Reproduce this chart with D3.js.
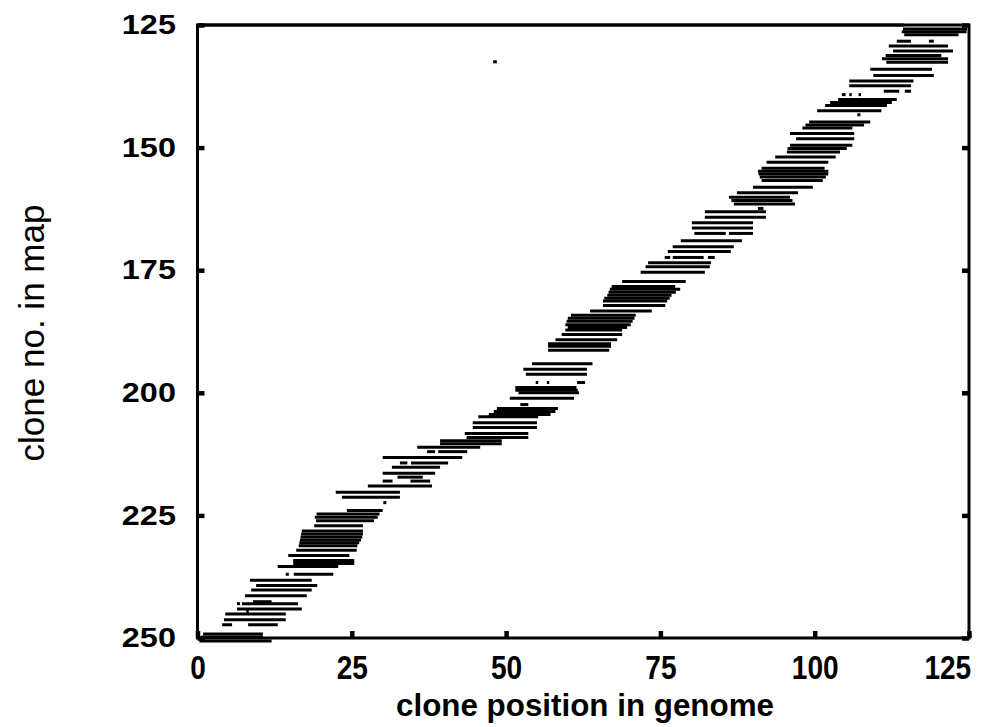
<!DOCTYPE html>
<html><head><meta charset="utf-8">
<script src="https://cdn.jsdelivr.net/npm/d3@7"></script>
<style>body{margin:0;background:#fff}</style>
</head><body><svg id="c" width="1000" height="727"></svg>
<script>
const xTicks=[0,25,50,75,100,125];
const yTicks=[125,150,175,200,225,250];
const xTitle="clone position in genome";
const yTitle="clone no. in map";
const cloneNo=[125.0,125.8,126.4,127.0,128.3,128.3,129.3,130.3,131.2,131.9,132.6,132.5,134.0,135.3,136.4,137.4,138.5,138.5,139.2,139.2,139.2,140.2,140.8,141.4,142.5,143.3,144.8,145.4,146.0,147.1,148.2,149.5,150.2,150.9,151.9,153.0,154.2,154.8,155.4,156.0,156.7,158.1,159.2,160.1,160.8,161.5,162.4,163.1,164.2,165.3,166.4,167.5,167.5,169.0,170.2,171.2,172.4,172.4,172.4,173.5,174.3,175.4,177.3,178.3,178.9,179.5,180.1,180.7,181.3,182.2,183.3,184.2,184.8,185.4,186.1,186.7,187.2,188.1,189.2,190.0,190.5,191.3,194.1,195.2,196.2,197.9,197.9,197.9,198.9,199.5,200.0,201.1,202.4,203.2,203.8,204.4,204.9,206.1,207.1,208.3,209.1,209.8,210.4,211.1,212.0,212.0,213.2,214.3,214.3,215.2,216.4,217.2,218.0,218.0,219.0,220.3,221.3,222.4,224.0,224.7,225.4,226.1,227.1,228.2,228.8,229.4,230.0,230.6,231.2,232.1,233.2,234.2,234.8,235.4,237.0,237.0,238.2,239.3,240.2,241.4,242.6,243.0,243.0,244.1,244.6,245.1,246.3,247.3,247.3,249.2,249.8,250.6];
const startPos=[0.3,114.3,114.1,114.5,113.3,118.5,112.0,112.7,111.5,110.9,111.6,47.9,109.0,109.5,105.6,105.6,111.2,114.6,104.4,105.6,107.1,103.8,102.5,101.7,100.4,106.9,99.1,98.5,98.0,96.0,97.0,96.0,95.6,95.5,93.6,92.2,91.4,90.8,90.9,91.1,91.4,90.0,87.4,86.1,86.5,86.9,90.8,82.2,82.2,80.1,80.1,80.5,86.1,78.3,77.0,76.2,75.7,77.0,82.7,73.0,72.6,71.8,68.8,67.1,66.8,66.6,66.4,65.9,65.7,65.7,63.6,60.5,60.0,59.8,59.6,60.0,59.6,59.0,58.0,56.8,56.8,56.8,54.2,52.8,53.2,54.8,56.6,61.5,51.5,51.5,52.0,50.6,52.3,48.5,48.0,47.2,45.5,44.6,44.6,43.3,43.6,39.3,39.3,35.6,37.2,39.0,30.0,32.8,34.6,31.5,30.0,32.4,30.0,34.5,27.6,22.4,23.4,30.1,24.2,19.3,19.0,19.2,18.9,16.9,16.8,16.7,16.6,16.5,16.4,16.0,14.7,15.5,15.5,13.0,14.3,15.6,8.5,9.5,8.7,7.7,9.0,6.4,7.2,6.4,7.9,4.5,4.3,4.0,8.2,0.9,0.6,0.3];
const endPos=[114.5,124.7,124.6,123.3,115.6,119.3,121.6,122.4,120.5,121.6,121.6,48.5,119.0,119.3,116.0,115.6,113.7,115.6,105.0,106.0,107.5,113.3,112.5,111.7,110.8,107.4,109.0,108.0,106.1,106.4,106.4,106.1,105.2,104.1,103.4,102.2,101.6,102.2,102.2,101.8,101.3,99.7,97.3,96.0,96.4,96.8,91.7,92.1,92.1,90.0,90.0,85.6,90.0,88.2,86.9,86.4,76.6,82.0,83.8,83.2,83.0,82.2,79.1,77.4,78.2,77.5,76.8,76.5,76.1,75.8,73.6,71.0,70.8,70.5,70.2,69.6,68.8,68.8,68.0,67.0,67.0,66.7,64.0,63.1,63.1,55.2,57.0,62.8,61.4,61.6,61.8,61.0,53.6,58.4,58.0,57.2,55.2,55.0,55.0,53.6,53.6,49.3,49.3,45.8,38.5,43.7,42.9,34.0,40.6,39.3,38.5,36.5,31.6,37.7,38.0,32.8,32.8,30.6,30.0,29.5,29.2,28.6,26.8,26.8,26.8,26.7,26.5,26.2,25.9,25.8,24.6,25.4,25.4,22.8,14.8,22.0,18.5,19.4,18.5,17.7,12.0,6.9,16.3,16.9,8.3,14.3,14.3,5.6,13.0,10.6,10.6,12.0];

const svg=d3.select("#c");
const L=197.5,R=969,T=25,B=638;
const x=d3.scaleLinear().domain([0,125]).range([L,R]);
const y=d3.scaleLinear().domain([125,250]).range([T,B]);

// clones
svg.append("g").selectAll("line").data(cloneNo.map((c,i)=>({c,s:startPos[i],e:endPos[i]})))
 .join("line")
 .attr("x1",d=>x(d.s)).attr("x2",d=>x(d.e))
 .attr("y1",d=>y(d.c)).attr("y2",d=>y(d.c))
 .attr("stroke","#000").attr("stroke-width",3);

// frame
svg.append("rect").attr("x",L).attr("y",T).attr("width",R-L).attr("height",B-T)
 .attr("fill","none").attr("stroke","#000").attr("stroke-width",3);

const fam="'Liberation Sans', Arial, sans-serif";
// x axis
const gx=svg.append("g").attr("transform",`translate(0,${B})`)
 .call(d3.axisBottom(x).tickValues(xTicks).tickSizeInner(-7).tickSizeOuter(0).tickPadding(18));
gx.select(".domain").remove();
gx.selectAll("line").attr("stroke-width",4.5);
gx.selectAll("text").attr("font-family",fam).attr("font-weight","bold").attr("font-size",33)
 .attr("transform","scale(0.85,1)").attr("fill","#000")
 .filter(d=>d===xTicks[xTicks.length-1]).attr("text-anchor","end").attr("x",2);
// right mirror ticks
svg.append("g").attr("transform",`translate(${R},0)`)
 .call(d3.axisRight(y).tickValues(yTicks).tickSizeInner(-7).tickSizeOuter(0).tickFormat(""))
 .call(g=>{g.select(".domain").remove();g.selectAll("line").attr("stroke-width",4.5);});
// y axis
const gy=svg.append("g").attr("transform",`translate(${L},0)`)
 .call(d3.axisLeft(y).tickValues(yTicks).tickSizeInner(-7).tickSizeOuter(0).tickPadding(18));
gy.select(".domain").remove();
gy.selectAll("line").attr("stroke-width",4.5);
gy.selectAll("text").attr("font-family",fam).attr("font-weight","bold").attr("font-size",27)
 .attr("transform","scale(1.2,1)").attr("x",-18).attr("fill","#000");

// titles
svg.append("text").attr("x",585).attr("y",716).attr("text-anchor","middle")
 .attr("font-family",fam).attr("font-weight","bold").attr("font-size",32)
 .attr("transform","translate(585,0) scale(0.98,1) translate(-585,0)").text(xTitle);
svg.append("text").attr("transform","translate(44,333) rotate(-90)")
 .attr("text-anchor","middle").attr("font-family",fam).attr("font-size",35).text(yTitle);
</script></body></html>
